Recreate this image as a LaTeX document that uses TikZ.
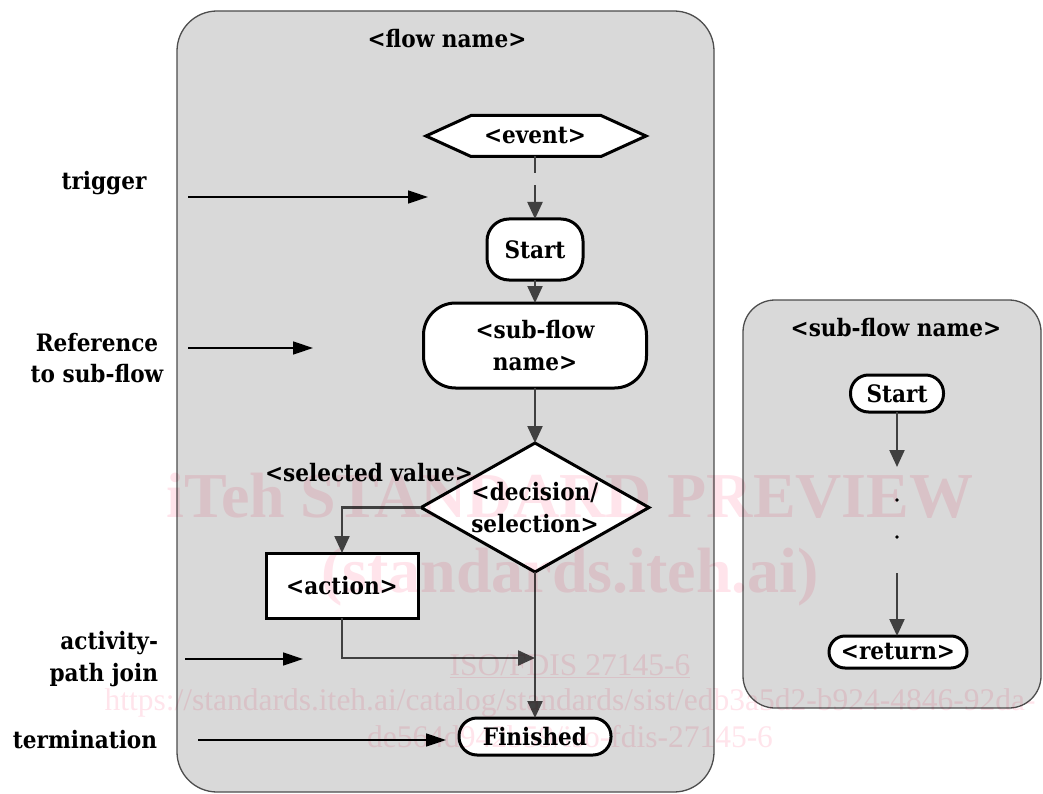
\documentclass[tikz,border=0pt]{standalone}
\usepackage{fontspec}
\setmainfont{DejaVu Serif}[FakeStretch=0.9]
\newfontfamily\markfont{Liberation Serif}
\usetikzlibrary{arrows.meta,shapes.geometric}
\definecolor{panelfill}{HTML}{D9D9D9}
\definecolor{panelrule}{HTML}{4D4D4D}
\definecolor{flowline}{HTML}{404040}
\definecolor{markpink}{RGB}{255,228,235}
\begin{document}
\begin{tikzpicture}[x=1pt,y=-1pt,
  every node/.style={inner sep=0pt, outer sep=0pt},
  lbl/.style={font=\fontsize{24}{31.5}\selectfont\bfseries, align=center},
  panel/.style={draw=panelrule, line width=1.3pt, fill=panelfill},
  boxline/.style={draw=black, line width=3pt, fill=white},
  pill/.style={boxline, lbl, rounded corners=#1},
  flow/.style={draw=flowline, line width=2.2pt, -{Triangle[length=17pt,width=15pt]}},
  note/.style={draw=black, line width=1.4pt, -{Triangle[length=20pt,width=13pt]}},
  wmbig/.style={font=\markfont\bfseries\fontsize{64}{64}\selectfont, text=markpink, anchor=base},
  wmsmall/.style={font=\markfont\fontsize{31.5}{32}\selectfont, text=markpink, anchor=base}]
\useasboundingbox (0,0) rectangle (1043,794);

% panels
\draw[panel, rounded corners=40pt] (177,11) rectangle (714,792);
\draw[panel, rounded corners=32pt] (743,300) rectangle (1041,708);

% main flow
\node[lbl] (flowtitle) at (447,39) {<flow name>};
\draw[boxline] (426,136) -- (471,115.5) -- (601,115.5) -- (646,136)
  -- (601,156.5) -- (471,156.5) -- cycle;
\node[lbl, minimum width=130pt, minimum height=41pt] (event) at (535,136) {<event>};
\node[pill=22pt, minimum width=96pt, minimum height=61pt] (start) at (535,249.5) {Start};
\node[pill=32pt, minimum width=223pt, minimum height=85pt] (subref) at (535,345.5) {<sub-flow\\name>};
\node[boxline, lbl, shape=diamond, aspect=1.77, minimum width=228pt, minimum height=129pt]
  (decide) at (535,507.5) {<decision/\\selection>};
\node[lbl] (selval) at (369,473) {<selected value>};
\node[boxline, lbl, minimum width=152pt, minimum height=65pt] (action) at (342,585.5) {<action>};
\node[pill=18pt, minimum width=152pt, minimum height=37pt] (finish) at (535,736.5) {Finished};
\coordinate (join) at (535,658);

\draw[flow, dash pattern=on 17pt off 12pt] (event.south) -- (start.north);
\draw[flow] (start.south) -- (subref.north);
\draw[flow] (subref.south) -- (decide.north);
\draw[flow] (decide.west) -| (action.north);
\draw[flow] (action.south) |- (join);
\draw[flow] (decide.south) -- (finish.north);

% explanatory notes
\node[lbl] (trignote) at (104,183) {trigger};
\node[lbl] (refnote) at (97,358) {Reference\\to sub-flow};
\node[lbl, align=right, anchor=east] (joinnote) at (158,659) {activity-\\path join};
\node[lbl] (termnote) at (85,740) {termination};
\coordinate (trigA) at (188,197); \coordinate (trigB) at (428,197);
\coordinate (refA) at (188,348);  \coordinate (refB) at (313,348);
\coordinate (joinA) at (185,659); \coordinate (joinB) at (303,659);
\coordinate (termA) at (198,740); \coordinate (termB) at (446,740);
\draw[note] (trigA) -- (trigB);
\draw[note] (refA) -- (refB);
\draw[note] (joinA) -- (joinB);
\draw[note] (termA) -- (termB);

% sub-flow
\node[lbl] (subtitle) at (896,328) {<sub-flow name>};
\node[pill=18pt, minimum width=93pt, minimum height=37pt] (substart) at (897,393.5) {Start};
\node[pill=16pt, minimum width=138pt, minimum height=32pt] (subret) at (898,652) {<return>};
\coordinate (gapA) at (897,467);
\coordinate (gapB) at (897,573);
\draw[flow] (substart.south) -- (gapA);
\draw[flow] (gapB) -- (gapB |- subret.north);
\fill[black] (897,500) circle (1.8pt);
\fill[black] (897,537) circle (1.8pt);

% watermark
\begin{scope}[blend mode=multiply]
\node[wmbig] (wm1) at (570,517) {iTeh STANDARD PREVIEW};
\node[wmbig] (wm2) at (570,592) {(standards.iteh.ai)};
\node[wmsmall] (wm3) at (570,675) {\underline{ISO/FDIS 27145-6}};
\node[wmsmall] (wm4) at (570,710) {https://standards.iteh.ai/catalog/standards/sist/edb3a5d2-b924-4846-92da-};
\node[wmsmall] (wm5) at (570,747) {de564d942b59/iso-fdis-27145-6};
\end{scope}
\end{tikzpicture}
\end{document}
